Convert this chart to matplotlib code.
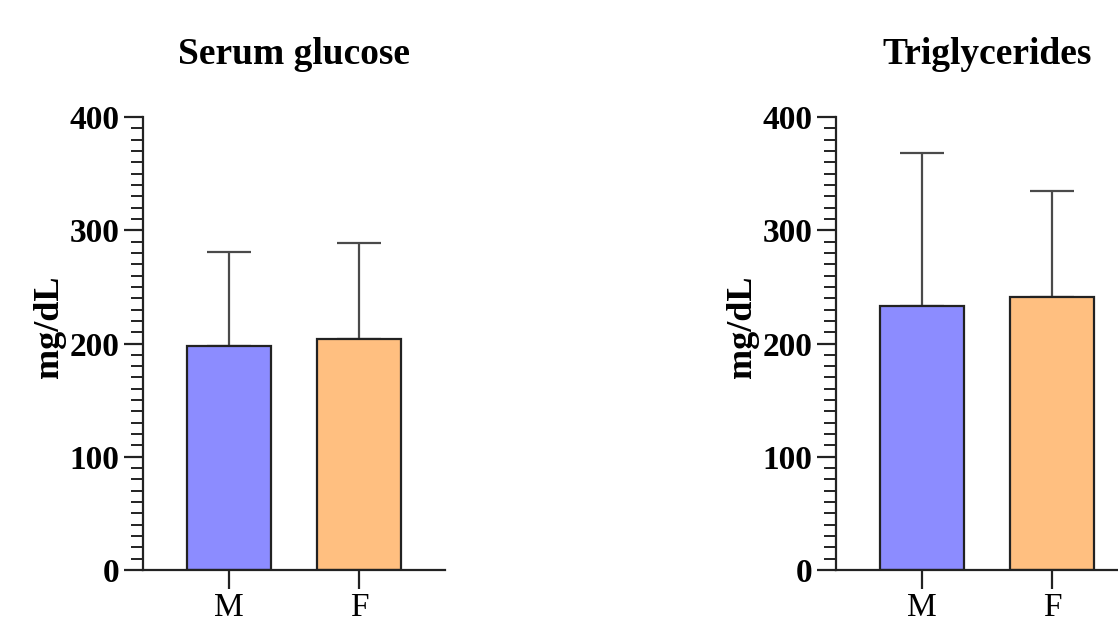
import matplotlib
matplotlib.use("Agg")
import matplotlib.pyplot as plt
from matplotlib.ticker import MultipleLocator

categories = ["M", "F"]
glucose_mean = [198, 204]
glucose_sd = [83, 85]
trig_mean = [233, 241]
trig_sd = [135, 94]
titles = ["Serum glucose", "Triglycerides"]
ylabel = "mg/dL"
colors = ["#8C8CFF", "#FFBF80"]

plt.rcParams['font.family'] = ['Liberation Serif', 'DejaVu Serif']

W, H = 1118, 623
fig = plt.figure(figsize=(W / 100, H / 100), dpi=100)

def make_ax(x0):
    return fig.add_axes([x0 / W, (H - 570) / H, 302 / W, (570 - 117) / H])

panels = [(143, glucose_mean, glucose_sd, titles[0]),
          (836, trig_mean, trig_sd, titles[1])]

for x0, means, sds, title in panels:
    ax = make_ax(x0)
    pos = list(range(len(categories)))
    ax.bar(pos, means, width=0.65, color=colors, edgecolor="#222222",
           linewidth=1.6, zorder=2)
    ax.errorbar(pos, means, yerr=[[0] * len(sds), sds], fmt="none",
                ecolor="#4a4a4a", elinewidth=1.6, capsize=16, capthick=1.6,
                zorder=1)
    ax.set_xlim(-0.66, 1.66)
    ax.set_ylim(0, 400)
    ax.yaxis.set_major_locator(MultipleLocator(100))
    ax.yaxis.set_minor_locator(MultipleLocator(10))
    ax.set_xticks(pos)
    ax.set_xticklabels(categories, fontsize=24)
    for lab in ax.get_yticklabels():
        lab.set_fontweight("bold")
    ax.tick_params(axis="y", which="major", length=14, width=1.6,
                   labelsize=24, pad=3, color="#222222")
    ax.tick_params(axis="y", which="minor", length=8.5, width=1.4,
                   color="#222222")
    ax.tick_params(axis="x", which="major", length=14, width=1.6,
                   pad=2.5, color="#222222")
    for s in ["top", "right"]:
        ax.spines[s].set_visible(False)
    for s in ["left", "bottom"]:
        ax.spines[s].set_linewidth(1.6)
        ax.spines[s].set_color("#222222")
    ax.set_title(title, fontsize=27, fontweight="bold", pad=38)
    ax.set_ylabel(ylabel, fontsize=26, fontweight="bold")
    ax.yaxis.set_label_coords(-0.255, 0.536)

fig.savefig("out.png", dpi=100)
